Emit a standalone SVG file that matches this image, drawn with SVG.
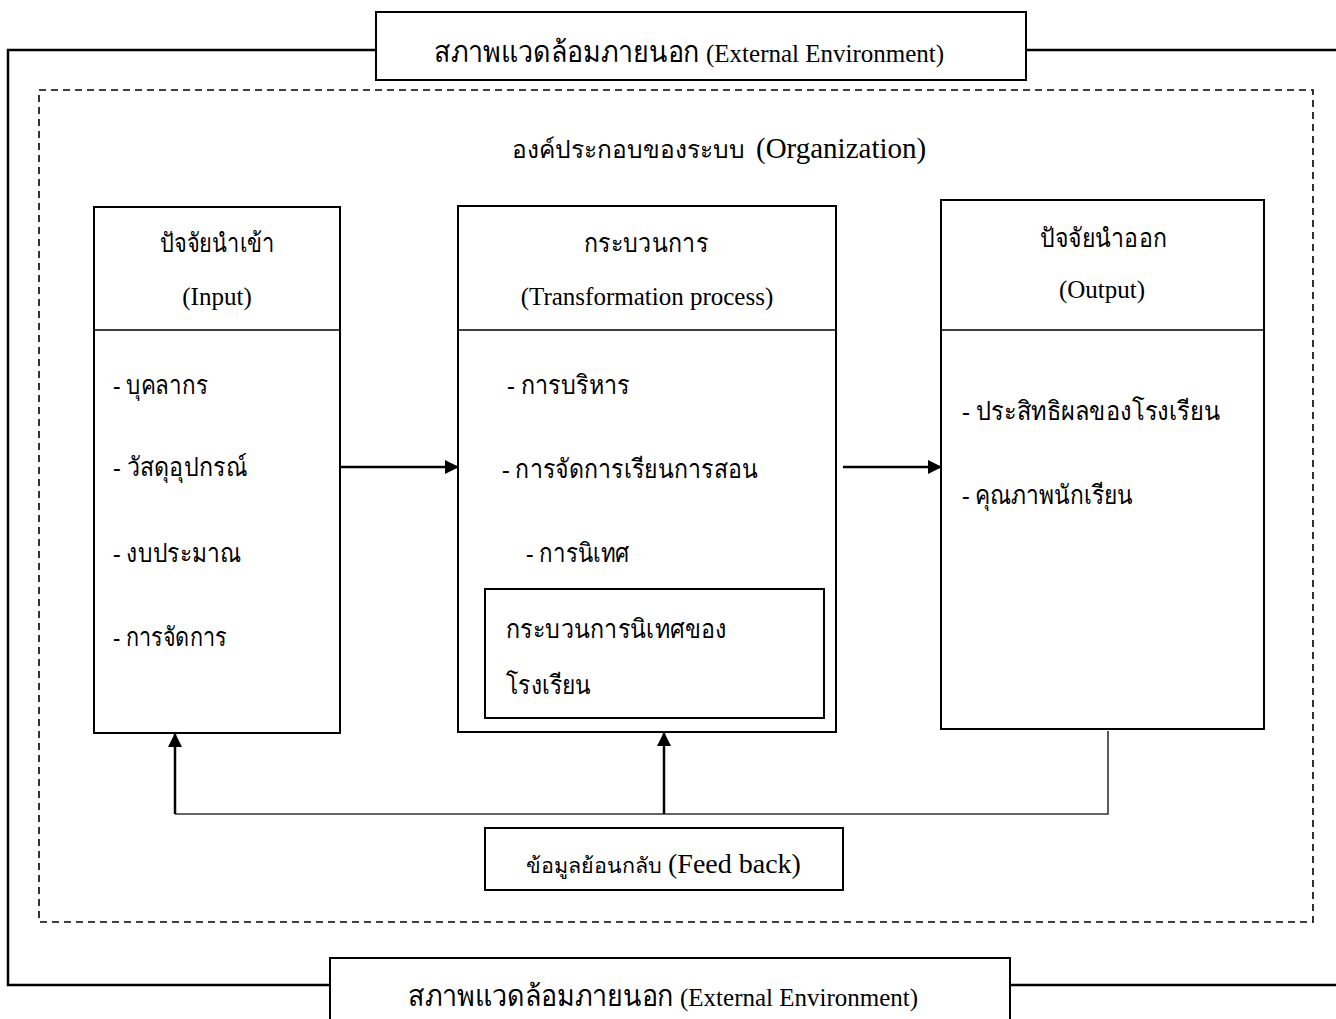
<svg xmlns="http://www.w3.org/2000/svg" width="1336" height="1019" viewBox="0 0 1336 1019">
<defs>
<style>
text{font-family:"Liberation Serif","Noto Sans",serif;fill:#000;font-size:25px}
.th{font-size:26px}
.thb{font-size:29px}
.en28{font-size:28px}
.en29{font-size:29px}
.box{fill:#fff;stroke:#000;stroke-width:2}
.thin{fill:none;stroke:#000;stroke-width:1.5}
.fb{fill:none;stroke:#333;stroke-width:1.6}
.ln{fill:none;stroke:#000;stroke-width:2.5}
.dash{fill:none;stroke:#000;stroke-width:1.6;stroke-dasharray:7,5}
</style>
<marker id="ah" viewBox="0 0 14 14" refX="13" refY="7" markerWidth="14" markerHeight="14" markerUnits="userSpaceOnUse" orient="auto">
<path d="M0,0 L14,7 L0,14 z" fill="#000"/>
</marker>
</defs>
<rect width="1336" height="1019" fill="#fff"/>
<g id="environment-frame">
<path class="ln" d="M376,50 H8 V985 H330"/>
<path class="ln" d="M1026,50 H1336"/>
<path class="ln" d="M1010,985 H1336"/>
</g>
<g id="organization">
<rect class="dash" x="39" y="90" width="1274" height="832"/>
<text x="512" y="158" style="font-size:24.5px">องค์ประกอบของระบบ</text>
<text class="en29" x="756" y="158">(Organization)</text>
</g>
<g id="env-top">
<rect class="box" x="376" y="12" width="650" height="68"/>
<text y="62"><tspan class="thb" x="434" textLength="266" lengthAdjust="spacingAndGlyphs">สภาพแวดล้อมภายนอก</tspan><tspan x="706">(External Environment)</tspan></text>
</g>
<g id="env-bottom">
<rect class="box" x="330" y="958" width="680" height="70"/>
<text y="1006"><tspan class="thb" x="408" textLength="266" lengthAdjust="spacingAndGlyphs">สภาพแวดล้อมภายนอก</tspan><tspan x="680">(External Environment)</tspan></text>
</g>
<g id="connectors">
<line class="ln" x1="340" y1="467" x2="458" y2="467" marker-end="url(#ah)"/>
<line class="ln" x1="843" y1="467" x2="941" y2="467" marker-end="url(#ah)"/>
<polyline class="fb" points="1108,731 1108,814 175,814"/>
<line class="ln" x1="175" y1="814" x2="175" y2="734" marker-end="url(#ah)"/>
<line class="ln" x1="664" y1="814" x2="664" y2="733" marker-end="url(#ah)"/>
</g>
<g id="input">
<rect class="box" x="94" y="207" width="246" height="526"/>
<line class="thin" x1="94" y1="330" x2="340" y2="330"/>
<text class="th" x="160" y="252" textLength="115" lengthAdjust="spacingAndGlyphs">ปัจจัยนำเข้า</text>
<text x="217" y="305" text-anchor="middle">(Input)</text>
<text class="th" x="113" y="394" textLength="95" lengthAdjust="spacingAndGlyphs">- บุคลากร</text>
<text class="th" x="113" y="476" textLength="134" lengthAdjust="spacingAndGlyphs">- วัสดุอุปกรณ์</text>
<text class="th" x="113" y="562" textLength="128" lengthAdjust="spacingAndGlyphs">- งบประมาณ</text>
<text class="th" x="113" y="646" textLength="114" lengthAdjust="spacingAndGlyphs">- การจัดการ</text>
</g>
<g id="process">
<rect class="box" x="458" y="206" width="378" height="526"/>
<line class="thin" x1="458" y1="330" x2="836" y2="330"/>
<text class="th" x="584" y="252" textLength="124" lengthAdjust="spacingAndGlyphs">กระบวนการ</text>
<text x="647" y="305" text-anchor="middle">(Transformation process)</text>
<text class="th" x="507" y="394" textLength="123" lengthAdjust="spacingAndGlyphs">- การบริหาร</text>
<text class="th" x="502" y="478" textLength="256" lengthAdjust="spacingAndGlyphs">- การจัดการเรียนการสอน</text>
<text class="th" x="526" y="562" textLength="104" lengthAdjust="spacingAndGlyphs">- การนิเทศ</text>
<rect class="box" x="485" y="589" width="339" height="129"/>
<text class="th" x="506" y="638" textLength="221" lengthAdjust="spacingAndGlyphs">กระบวนการนิเทศของ</text>
<text class="th" x="506" y="694" textLength="85" lengthAdjust="spacingAndGlyphs">โรงเรียน</text>
</g>
<g id="output">
<rect class="box" x="941" y="200" width="323" height="529"/>
<line class="thin" x1="941" y1="330" x2="1264" y2="330"/>
<text class="th" x="1040" y="247" textLength="127" lengthAdjust="spacingAndGlyphs">ปัจจัยนำออก</text>
<text x="1102" y="298" text-anchor="middle">(Output)</text>
<text class="th" x="962" y="420" textLength="258" lengthAdjust="spacingAndGlyphs">- ประสิทธิผลของโรงเรียน</text>
<text class="th" x="962" y="504" textLength="171" lengthAdjust="spacingAndGlyphs">- คุณภาพนักเรียน</text>
</g>
<g id="feedback">
<rect class="box" x="485" y="828" width="358" height="62"/>
<text x="526" y="873" style="font-size:21.5px">ข้อมูลย้อนกลับ</text>
<text class="en28" x="668" y="873">(Feed back)</text>
</g>
</svg>
